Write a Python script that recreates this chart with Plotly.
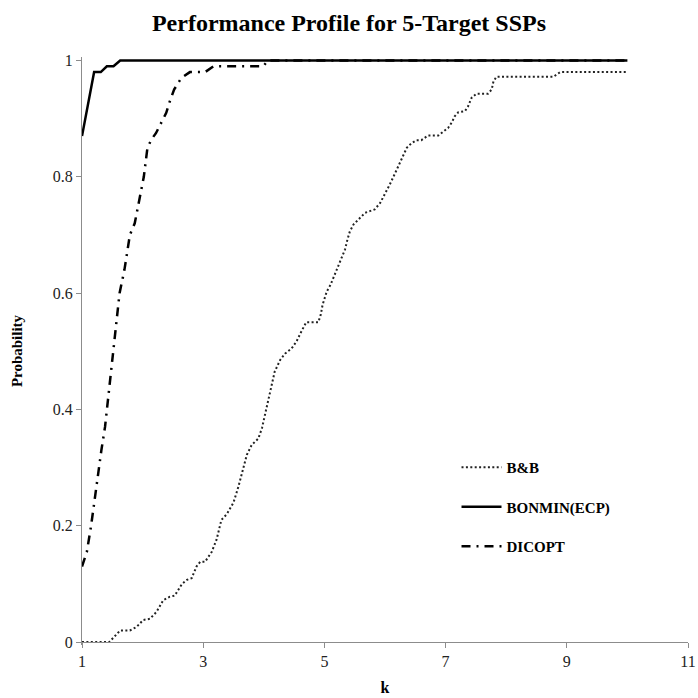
import plotly.graph_objects as go

# ---- data ----
bb_k = [1, 1.45, 1.63, 1.79, 1.90, 2.01, 2.12, 2.23, 2.34, 2.45,
        2.53, 2.65, 2.73, 2.81, 2.89, 2.95, 3.03, 3.14, 3.22, 3.30,
        3.39, 3.50, 3.58, 3.66, 3.72, 3.80, 3.91, 3.97, 4.02, 4.07,
        4.13, 4.18, 4.27, 4.35, 4.46, 4.54, 4.62, 4.70, 4.90, 4.94,
        4.97, 5.04, 5.10, 5.16, 5.23, 5.29, 5.34, 5.38, 5.42, 5.48,
        5.56, 5.67, 5.75, 5.83, 5.92, 6.0, 6.08, 6.17, 6.24, 6.30,
        6.36, 6.44, 6.52, 6.60, 6.71, 6.88, 6.96, 7.04, 7.10, 7.15,
        7.21, 7.32, 7.37, 7.43, 7.51, 7.70, 7.76, 7.79, 7.84, 8.78,
        8.89, 10]
bb_p = [0, 0, 0.02, 0.02, 0.026, 0.038, 0.04, 0.052, 0.072, 0.078,
        0.08, 0.10, 0.107, 0.11, 0.13, 0.138, 0.138, 0.155, 0.176, 0.21,
        0.22, 0.24, 0.267, 0.30, 0.322, 0.339, 0.35, 0.368, 0.39, 0.414,
        0.442, 0.465, 0.485, 0.496, 0.505, 0.517, 0.534, 0.55, 0.55, 0.563,
        0.58, 0.603, 0.614, 0.629, 0.646, 0.66, 0.675, 0.692, 0.706, 0.718,
        0.726, 0.738, 0.741, 0.744, 0.755, 0.77, 0.787, 0.807, 0.824, 0.838,
        0.85, 0.858, 0.863, 0.863, 0.871, 0.871, 0.877, 0.884, 0.893, 0.904,
        0.911, 0.913, 0.921, 0.936, 0.943, 0.943, 0.95, 0.964, 0.972, 0.972,
        0.98, 0.98]

bonmin_k = [1, 1.2, 1.31, 1.41, 1.52, 1.63, 10]
bonmin_p = [0.87, 0.98, 0.98, 0.99, 0.99, 1.0, 1.0]

dicopt_k = [1, 1.08, 1.15, 1.2, 1.27, 1.32, 1.38, 1.45, 1.55, 1.62,
            1.7, 1.79, 1.87, 1.95, 2.02, 2.08, 2.15, 2.22, 2.29, 2.39,
            2.45, 2.52, 2.64, 2.78, 2.89, 3.03, 3.17, 3.28, 3.99, 4.07,
            10]
dicopt_p = [0.13, 0.155, 0.2, 0.24, 0.29, 0.33, 0.37, 0.44, 0.53, 0.6,
            0.64, 0.70, 0.72, 0.76, 0.8, 0.85, 0.865, 0.875, 0.89, 0.91,
            0.93, 0.95, 0.97, 0.98, 0.98, 0.98, 0.99, 0.99, 0.99, 1.0,
            1.0]

x_ticks = [1, 3, 5, 7, 9, 11]
y_ticks = [0, 0.2, 0.4, 0.6, 0.8, 1]

SERIF = "Liberation Serif"
AXIS_GRAY = "#8c8c8c"

W = H = 698

fig = go.Figure()
fig.add_trace(go.Scatter(x=bb_k, y=bb_p, mode="lines", name="<b>B&B</b>",
                         legendgroup="a",
                         line=dict(color="#222222", width=2, dash="2px,2.4px")))
fig.add_trace(go.Scatter(x=bonmin_k, y=bonmin_p, mode="lines", name="<b>BONMIN(ECP)</b>",
                         legendgroup="b",
                         line=dict(color="#000000", width=2.5)))
fig.add_trace(go.Scatter(x=dicopt_k, y=dicopt_p, mode="lines", name="<b>DICOPT</b>",
                         legendgroup="c",
                         line=dict(color="#000000", width=2.5, dash="9px,6px,2px,6px")))

y_lo, y_hi = -0.005, 1.006
fig.update_layout(
    width=W, height=H,
    margin=dict(l=82, r=10, t=57, b=53, autoexpand=False),
    paper_bgcolor="white", plot_bgcolor="white",
    title=dict(text="<b>Performance Profile for 5-Target SSPs</b>",
               x=0.5, xref="container", xanchor="center",
               y=1 - 23 / H, yref="container", yanchor="middle",
               font=dict(family=SERIF, size=24, color="#000")),
    font=dict(family=SERIF, size=15, color="#222"),
    showlegend=True,
    legend=dict(x=0.618, y=0.33, xanchor="left", yanchor="top",
                bgcolor="rgba(0,0,0,0)", tracegroupgap=17,
                traceorder="grouped",
                font=dict(family=SERIF, size=15, color="#000"),
                itemwidth=40),
    xaxis=dict(range=[1, 11], tickvals=x_ticks, ticks="outside", ticklen=5,
               tickcolor=AXIS_GRAY, showline=True, linecolor=AXIS_GRAY, linewidth=1,
               showgrid=False, zeroline=False, automargin=False,
               ticklabeloverflow="allow",
               anchor="free", position=(0 - y_lo) / (y_hi - y_lo),
               title=dict(text="<b>k</b>", standoff=12,
                          font=dict(family=SERIF, size=16, color="#000")),
               tickfont=dict(family=SERIF, size=16, color="#222")),
    yaxis=dict(range=[y_lo, y_hi], tickvals=y_ticks, ticks="outside", ticklen=5,
               tickcolor=AXIS_GRAY, showline=True, linecolor=AXIS_GRAY, linewidth=1,
               showgrid=False, zeroline=False, automargin=False,
               title=dict(text="<b>Probability</b>", standoff=26,
                          font=dict(family=SERIF, size=15, color="#000")),
               tickfont=dict(family=SERIF, size=16, color="#222")),
)

fig.write_html(
    "out.html",
    config={"displayModeBar": False},
    post_script="document.body.style.margin='0';document.body.style.overflow='hidden';",
)
